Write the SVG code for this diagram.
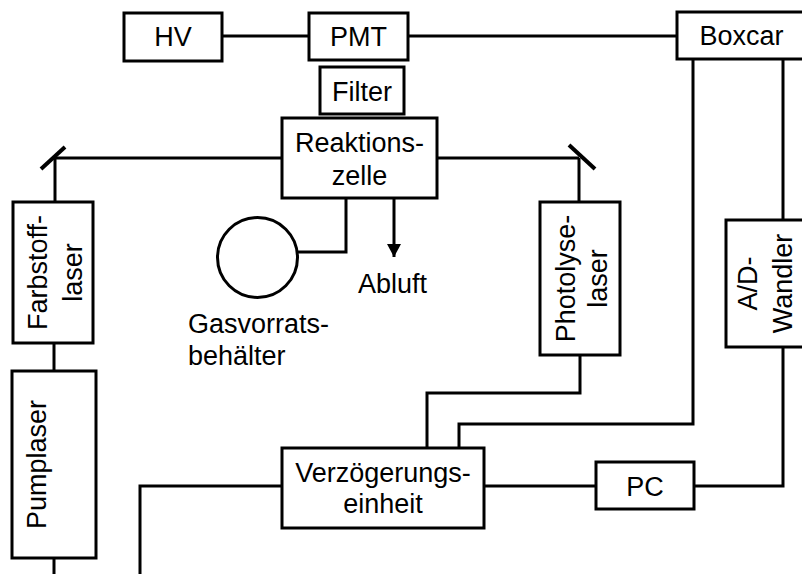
<svg xmlns="http://www.w3.org/2000/svg" width="802" height="574" viewBox="0 0 802 574">
<defs>
<style>
.box{fill:#fff;stroke:#000;stroke-width:3}
.ln{fill:none;stroke:#000;stroke-width:3}
.mr{fill:none;stroke:#000;stroke-width:4}
text{font-family:"Liberation Sans",Arial,sans-serif;font-size:27px;fill:#000}
.c{text-anchor:middle}
</style>
<marker id="arr" markerWidth="16" markerHeight="14" refX="13" refY="7" orient="auto" markerUnits="userSpaceOnUse">
<path d="M0,0 L13,7 L0,14 Z" fill="#000"/>
</marker>
</defs>
<g id="connectors">
<line class="ln" x1="222" y1="36" x2="309" y2="36"/>
<line class="ln" x1="408" y1="36" x2="677" y2="36"/>
<line class="ln" x1="55" y1="158" x2="282" y2="158"/>
<line class="ln" x1="437" y1="158" x2="579" y2="158"/>
<line class="ln" x1="55" y1="158" x2="55" y2="202"/>
<line class="ln" x1="579" y1="158" x2="579" y2="202"/>
<line class="ln" x1="54" y1="343" x2="54" y2="371"/>
<line class="ln" x1="54" y1="558" x2="54" y2="574"/>
<polyline class="ln" points="298,252 346,252 346,198"/>
<line class="ln" x1="394" y1="198" x2="394" y2="257" marker-end="url(#arr)"/>
<polyline class="ln" points="693,59 693,424 459,424 459,448"/>
<line class="ln" x1="783" y1="59" x2="783" y2="220"/>
<polyline class="ln" points="783,347 783,486 694,486"/>
<polyline class="ln" points="580,355 580,393 427,393 427,448"/>
<line class="ln" x1="484" y1="486" x2="596" y2="486"/>
<polyline class="ln" points="282,486 140,486 140,574"/>
<line class="mr" x1="41" y1="169" x2="65" y2="147"/>
<line class="mr" x1="569" y1="145" x2="595" y2="169"/>
</g>
<g id="hv"><rect class="box" x="124" y="13" width="98" height="48"/><text class="c" x="173" y="46">HV</text></g>
<g id="pmt"><rect class="box" x="309" y="13" width="99" height="47"/><text class="c" x="358.5" y="46">PMT</text></g>
<g id="boxcar"><rect class="box" x="677" y="12" width="129" height="47"/><text class="c" x="741.5" y="45">Boxcar</text></g>
<g id="filter"><rect class="box" x="320" y="67" width="84" height="47"/><text class="c" x="362" y="101">Filter</text></g>
<g id="reaktionszelle"><rect class="box" x="282" y="118" width="155" height="80"/><text class="c" x="359.5" y="152">Reaktions-</text><text class="c" x="359.5" y="185">zelle</text></g>
<g id="farbstofflaser"><rect class="box" x="13" y="202" width="80" height="141"/><text class="c" transform="translate(47,272.5) rotate(-90)">Farbstoff-</text><text class="c" transform="translate(82,272.5) rotate(-90)">laser</text></g>
<g id="pumplaser"><rect class="box" x="12" y="371" width="84" height="187"/><text class="c" transform="translate(46,464.5) rotate(-90)">Pumplaser</text></g>
<g id="photolyselaser"><rect class="box" x="540" y="202" width="80" height="153"/><text class="c" transform="translate(575,278.5) rotate(-90)">Photolyse-</text><text class="c" transform="translate(607,278.5) rotate(-90)">laser</text></g>
<g id="adwandler"><rect class="box" x="726" y="220" width="80" height="127"/><text class="c" transform="translate(757,283.5) rotate(-90)">A/D-</text><text class="c" transform="translate(792,283.5) rotate(-90)">Wandler</text></g>
<g id="gasvorrat"><circle class="box" cx="257.5" cy="257.5" r="40"/><text x="188" y="333">Gasvorrats-</text><text x="188" y="365">behälter</text></g>
<g id="abluft"><text x="358" y="293">Abluft</text></g>
<g id="verzoegerung"><rect class="box" x="282" y="448" width="202" height="80"/><text class="c" x="383" y="482">Verzögerungs-</text><text class="c" x="383" y="513">einheit</text></g>
<g id="pc"><rect class="box" x="596" y="462" width="98" height="47"/><text class="c" x="645" y="496">PC</text></g>
</svg>
